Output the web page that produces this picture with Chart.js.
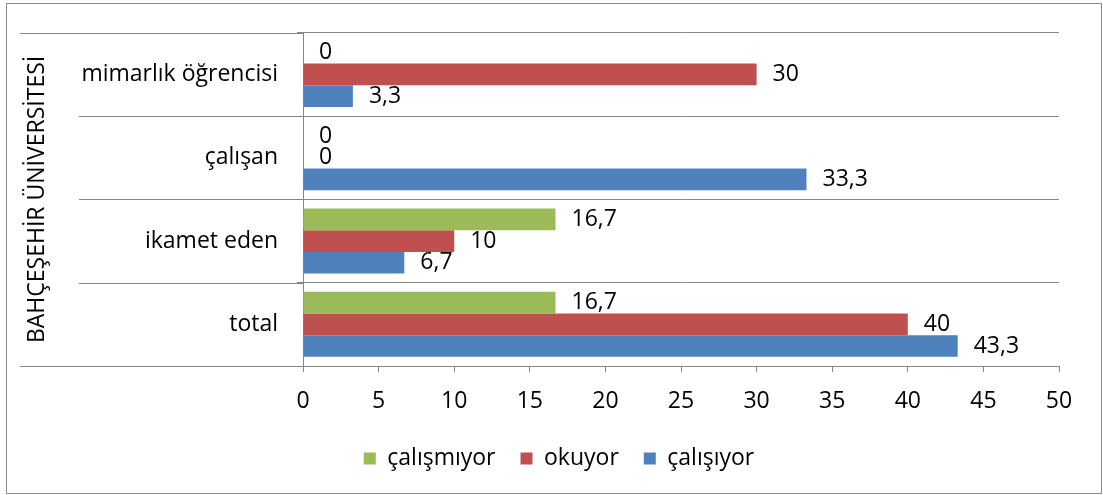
<!DOCTYPE html>
<html>
<head>
<meta charset="utf-8">
<script src="https://cdn.jsdelivr.net/npm/chart.js@4"></script>
<style>
  body { margin: 0; background: #fff; }
  #wrap { position: relative; width: 1103px; height: 495px; }
</style>
</head>
<body>
<div id="wrap"><canvas id="chart"></canvas></div>
<script>
// values
const categories = ['mimarlık öğrencisi', 'çalışan', 'ikamet eden', 'total'];
const seriesNames = ['çalışmıyor', 'okuyor', 'çalışıyor'];
const calismiyor = [0, 0, 16.7, 16.7];
const okuyor = [30, 0, 10, 40];
const calisiyor = [3.3, 33.3, 6.7, 43.3];
const xMin = 0;
const xMax = 50;
const xStep = 5;
const axisTitle = 'BAHÇEŞEHİR ÜNİVERSİTESİ';

const colors = ['#9BBB59', '#C0504D', '#4F81BD'];
const gridColor = '#878787';
const fontFamily = '"Open Sans", sans-serif';
const fontSize = 23;

// white background + grey outer frame
const framePlugin = {
  id: 'frame',
  beforeDraw(chart) {
    const ctx = chart.ctx;
    ctx.save();
    ctx.fillStyle = '#fff';
    ctx.fillRect(0, 0, chart.width, chart.height);
    ctx.strokeStyle = '#8a8a8a';
    ctx.lineWidth = 1;
    ctx.strokeRect(6.5, 3.5, chart.width - 8, chart.height - 5);
    ctx.restore();
  }
};

// category separators extend into the label area, outer ones reach the title
const categoryLinesPlugin = {
  id: 'categoryLines',
  afterDraw(chart) {
    const y = chart.scales.y;
    const area = chart.chartArea;
    const ctx = chart.ctx;
    ctx.save();
    ctx.strokeStyle = gridColor;
    ctx.lineWidth = 1;
    for (let i = 0; i <= categories.length; i++) {
      const py = Math.round(y.getPixelForValue(i - 0.5)) + 0.5;
      const outer = i === 0 || i === categories.length;
      ctx.beginPath();
      ctx.moveTo(outer ? 20 : 79, py);
      ctx.lineTo(area.left, py);
      ctx.stroke();
    }
    ctx.restore();
  }
};

const formatValue = v => String(v).replace('.', ',');

const valueLabelsPlugin = {
  id: 'valueLabels',
  afterDatasetsDraw(chart) {
    const ctx = chart.ctx;
    ctx.save();
    ctx.font = fontSize + 'px ' + fontFamily;
    ctx.fillStyle = '#000';
    ctx.textAlign = 'left';
    ctx.textBaseline = 'middle';
    chart.data.datasets.forEach((ds, di) => {
      const meta = chart.getDatasetMeta(di);
      meta.data.forEach((bar, i) => {
        ctx.fillText(formatValue(ds.data[i]), bar.x + 16, bar.y);
      });
    });
    ctx.restore();
  }
};

new Chart(document.getElementById('chart'), {
  type: 'bar',
  data: {
    labels: categories,
    datasets: [
      { label: seriesNames[0], data: calismiyor, backgroundColor: colors[0] },
      { label: seriesNames[1], data: okuyor, backgroundColor: colors[1] },
      { label: seriesNames[2], data: calisiyor, backgroundColor: colors[2] }
    ]
  },
  options: {
    indexAxis: 'y',
    responsive: true,
    maintainAspectRatio: false,
    animation: false,
    datasets: {
      bar: { categoryPercentage: 0.78, barPercentage: 1 }
    },
    // left padding is wider so the legend centres where the reference has it
    layout: {
      padding: { left: 59, top: 32, right: 44, bottom: 15 }
    },
    scales: {
      x: {
        min: xMin,
        max: xMax,
        ticks: {
          stepSize: xStep,
          color: '#000',
          padding: 16,
          font: { family: fontFamily, size: fontSize }
        },
        grid: { drawOnChartArea: false, drawTicks: true, tickLength: 6, color: gridColor },
        border: { color: gridColor },
        afterFit(scale) { scale.height = 56; }
      },
      y: {
        ticks: {
          color: '#000',
          padding: 19,
          font: { family: fontFamily, size: fontSize }
        },
        grid: { color: gridColor, drawTicks: true, tickLength: 6 },
        border: { color: gridColor },
        title: {
          display: true,
          text: axisTitle,
          color: '#000',
          padding: { top: -35, bottom: 0 },
          font: { family: fontFamily, size: fontSize }
        },
        afterFit(scale) { scale.width = 244; }
      }
    },
    plugins: {
      legend: {
        position: 'bottom',
        labels: {
          boxWidth: 12,
          boxHeight: 12,
          padding: 25,
          color: '#000',
          font: { family: fontFamily, size: fontSize }
        }
      },
      tooltip: { enabled: false }
    }
  },
  plugins: [framePlugin, categoryLinesPlugin, valueLabelsPlugin]
});
</script>
</body>
</html>
